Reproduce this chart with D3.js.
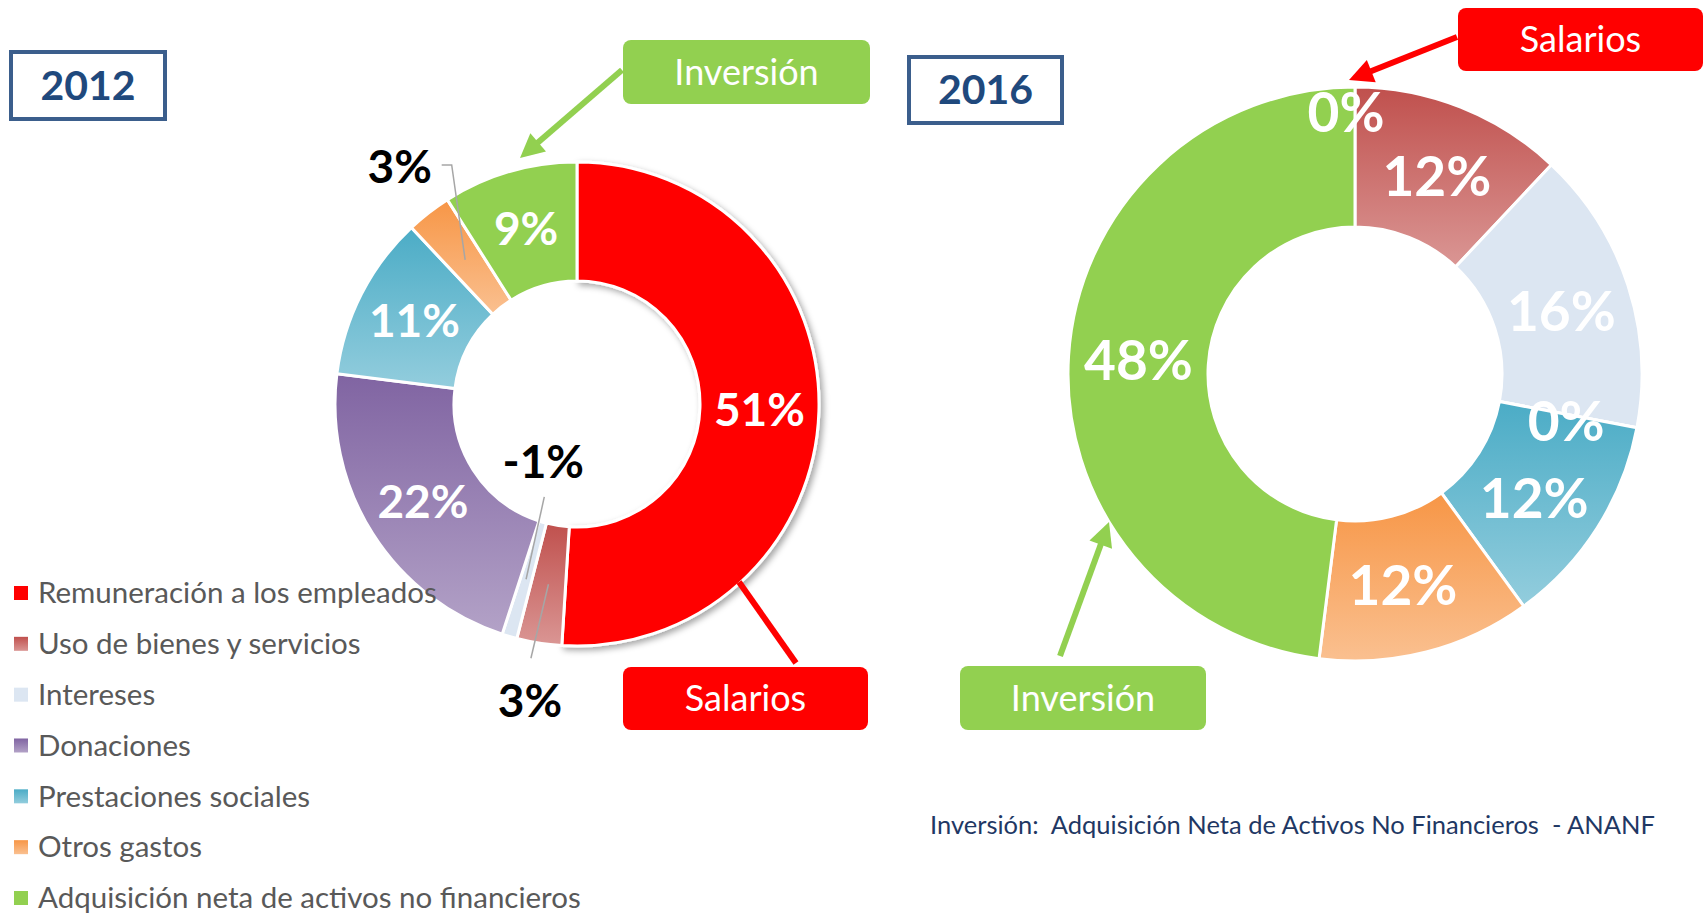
<!DOCTYPE html>
<html>
<head>
<meta charset="utf-8">
<script src="https://cdn.jsdelivr.net/npm/d3@7"></script>
<style>
    body { margin: 0; background: #fff; }
    svg { display: block; font-family: Lato, 'Open Sans', sans-serif; }
</style>
</head>
<body>
<svg id="chart" width="1705" height="916"></svg>
<script>
// categories shared by both years (same order as the legend)
const categories = [
    'Remuneración a los empleados',
    'Uso de bienes y servicios',
    'Intereses',
    'Donaciones',
    'Prestaciones sociales',
    'Otros gastos',
    'Adquisición neta de activos no financieros'
];
// share of spending, in %
const values2012 = [51, 3, -1, 22, 11, 3, 9];
const values2016 = [0, 12, 16, 0, 12, 12, 48];

// slice colours: top and bottom of the vertical gradient
const colorsTop    = ['#FF0000', '#C0504D', '#DCE6F2', '#8064A2', '#4BACC6', '#F79646', '#92D050'];
const colorsBottom = ['#FF0000', '#DA9694', '#DCE6F2', '#B3A2C7', '#93CDDD', '#FAC090', '#92D050'];

const svg = d3.select('#chart');
const defs = svg.append('defs');

categories.forEach((c, i) => {
    const g = defs.append('linearGradient')
        .attr('id', 'grad' + i)
        .attr('x1', 0).attr('y1', 0).attr('x2', 0).attr('y2', 1);
    g.append('stop').attr('offset', '0%').attr('stop-color', colorsTop[i]);
    g.append('stop').attr('offset', '100%').attr('stop-color', colorsBottom[i]);
});

const shadow = defs.append('filter').attr('id', 'shadow')
    .attr('x', '-20%').attr('y', '-20%').attr('width', '140%').attr('height', '140%');
shadow.append('feDropShadow')
    .attr('dx', 3).attr('dy', 3).attr('stdDeviation', 3)
    .attr('flood-color', '#000').attr('flood-opacity', 0.35);

function drawDonut(values, opts) {
    const pie = d3.pie().value(d => Math.abs(d)).sort(null);
    const arcs = pie(values);
    const arc = d3.arc().innerRadius(opts.rIn).outerRadius(opts.rOut);

    const g = svg.append('g')
        .attr('transform', `translate(${opts.cx},${opts.cy})`);

    g.selectAll('path.slice')
        .data(arcs)
        .join('path')
        .attr('class', 'slice')
        .attr('d', arc)
        .attr('fill', (d, i) => `url(#grad${i})`)
        .attr('stroke', '#fff')
        .attr('stroke-width', 3)
        .attr('filter', (d, i) => opts.shadowIndex === i ? 'url(#shadow)' : null);

    // label positions
    const labelPos = arcs.map((d, i) => {
        const p = opts.place[i] || {};
        if (p.type === 'out') {
            const a = (d.startAngle + d.endAngle) / 2 + (p.da || 0) * Math.PI / 180;
            return [p.r * Math.sin(a), -p.r * Math.cos(a)];
        }
        const c = arc.centroid(d);
        const n = p.nudge || [0, 0];
        return [c[0] + n[0], c[1] + n[1]];
    });

    // leader lines for labels that sit outside their slice
    arcs.forEach((d, i) => {
        const p = opts.place[i] || {};
        if (!p.leader) return;
        const pts = [arc.centroid(d)].concat(p.leader.map(o => [labelPos[i][0] + o[0], labelPos[i][1] + o[1]]));
        g.append('path')
            .attr('d', d3.line()(pts))
            .attr('fill', 'none')
            .attr('stroke', '#A6A6A6')
            .attr('stroke-width', 1.5);
    });

    g.selectAll('text.pct')
        .data(arcs)
        .join('text')
        .attr('class', 'pct')
        .attr('x', (d, i) => labelPos[i][0])
        .attr('y', (d, i) => labelPos[i][1])
        .attr('dy', '0.35em')
        .attr('text-anchor', 'middle')
        .style('font-size', opts.fontSize + 'px')
        .style('font-weight', 'bold')
        .style('fill', (d, i) => (opts.place[i] && opts.place[i].type === 'out') ? '#000' : '#fff')
        .text(d => d.data + '%');
}

drawDonut(values2012, {
    cx: 577, cy: 404, rIn: 123, rOut: 242, fontSize: 46, shadowIndex: 0,
    place: {
        1: { type: 'out', r: 301, da: 0, leader: [[1, -43]] },
        2: { type: 'out', r: 67, da: 14, leader: [[1, 35]] },
        5: { type: 'out', r: 296, da: 1, leader: [[52, -2], [42, -2]] }
    }
});

drawDonut(values2016, {
    cx: 1355, cy: 374, rIn: 147, rOut: 287, fontSize: 55,
    place: {
        0: { nudge: [-9, -44] },
        1: { nudge: [2, 4] },
        2: { nudge: [0, 5] },
        3: { nudge: [-2, 7] },
        4: { nudge: [-4, 8] },
        5: { nudge: [-6, 2] }
    }
});

// year boxes
function yearBox(x, y, w, h, label) {
    svg.append('rect')
        .attr('x', x).attr('y', y).attr('width', w).attr('height', h)
        .attr('fill', '#fff')
        .attr('stroke', '#3B5E8C')
        .attr('stroke-width', 4);
    svg.append('text')
        .attr('x', x + w / 2).attr('y', y + h / 2)
        .attr('dy', '0.35em')
        .attr('text-anchor', 'middle')
        .style('font-size', '41px')
        .style('font-weight', 'bold')
        .style('fill', '#1F497D')
        .text(label);
}
yearBox(11, 52, 154, 67, '2012');
yearBox(909, 57, 153, 66, '2016');

// callouts
function arrow(x1, y1, x2, y2, color, head) {
    const len = Math.hypot(x2 - x1, y2 - y1);
    const ux = (x2 - x1) / len, uy = (y2 - y1) / len;
    const hl = head ? 24 : 0;
    svg.append('line')
        .attr('x1', x1).attr('y1', y1)
        .attr('x2', x2 - ux * hl * 0.7).attr('y2', y2 - uy * hl * 0.7)
        .attr('stroke', color)
        .attr('stroke-width', 6);
    if (head) {
        const bx = x2 - ux * hl, by = y2 - uy * hl;
        const hw = 12;
        svg.append('polygon')
            .attr('points', [[x2, y2], [bx - uy * hw, by + ux * hw], [bx + uy * hw, by - ux * hw]].map(p => p.join(',')).join(' '))
            .attr('fill', color);
    }
}

function callout(x, y, w, h, color, label) {
    svg.append('rect')
        .attr('x', x).attr('y', y).attr('width', w).attr('height', h)
        .attr('rx', 8)
        .attr('fill', color);
    svg.append('text')
        .attr('x', x + w / 2).attr('y', y + h / 2)
        .attr('dy', '0.35em')
        .attr('text-anchor', 'middle')
        .style('font-size', '36px')
        .style('fill', '#fff')
        .text(label);
}

arrow(622, 70, 520, 158, '#92D050', true);
callout(623, 40, 247, 64, '#92D050', 'Inversión');

arrow(796, 663, 739, 582, '#FF0000', false);
callout(623, 667, 245, 63, '#FF0000', 'Salarios');

arrow(1060, 656, 1109, 522, '#92D050', true);
callout(960, 666, 246, 64, '#92D050', 'Inversión');

arrow(1457, 37, 1349, 80, '#FF0000', true);
callout(1458, 8, 245, 63, '#FF0000', 'Salarios');

// legend
const legend = svg.append('g').attr('class', 'legend');
const legendY = d3.scalePoint().domain(categories).range([593, 898]);
const item = legend.selectAll('g')
    .data(categories)
    .join('g')
    .attr('transform', d => `translate(0,${legendY(d)})`);
item.append('rect')
    .attr('x', 14).attr('y', -7).attr('width', 14).attr('height', 14)
    .attr('fill', (d, i) => `url(#grad${i})`);
item.append('text')
    .attr('x', 38)
    .attr('dy', '0.35em')
    .style('font-size', '29.5px')
    .style('fill', '#595959')
    .text(d => d);

// footnote
svg.append('text')
    .attr('x', 930).attr('y', 834)
    .style('font-size', '25.5px')
    .style('fill', '#1F3864')
    .style('white-space', 'pre')
    .text('Inversión:  Adquisición Neta de Activos No Financieros  - ANANF');
</script>
</body>
</html>
